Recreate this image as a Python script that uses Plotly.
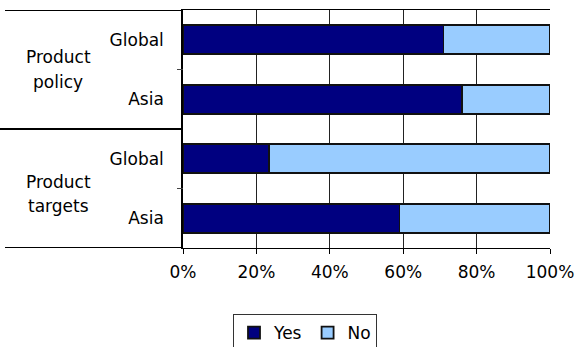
import plotly.graph_objects as go

# Survey results: share of companies answering Yes / No
rows = ["Global", "Asia", "Global", "Asia"]
groups = [["Product", "policy"], ["Product", "targets"]]
yes_pct = [71, 76, 23.5, 59]
no_pct = [100 - v for v in yes_pct]
x_ticks = [0, 20, 40, 60, 80, 100]
x_tick_text = ["0%", "20%", "40%", "60%", "80%", "100%"]

# rows drawn top to bottom
ypos = list(range(len(rows) - 1, -1, -1))

FONT = "DejaVu Sans, Verdana, sans-serif"

fig = go.Figure()
fig.add_trace(go.Bar(
    y=ypos, x=yes_pct, orientation="h", name="Yes", width=0.49,
    marker=dict(color="#000080", line=dict(color="#111111", width=1.8)),
))
fig.add_trace(go.Bar(
    y=ypos, x=no_pct, orientation="h", name="No", width=0.49,
    marker=dict(color="#99CCFF", line=dict(color="#111111", width=1.8)),
))

W, H = 578, 347
L, R, T, B = 183, 28, 10, 99
pw = W - L - R
ph = H - T - B


def px_to_paper_x(px):
    return (px - L) / pw


def px_to_paper_y(py):
    return (H - B - py) / ph


shapes = []
# group separators extending into the left margin
for yv, x0 in [(3.5, 5), (1.5, 0), (-0.5, 5)]:
    shapes.append(dict(type="line", xref="paper", yref="y",
                       x0=px_to_paper_x(x0), x1=0, y0=yv, y1=yv,
                       line=dict(color="black", width=2)))
# small ticks between rows within a group
for yv in [2.5, 0.5]:
    shapes.append(dict(type="line", xref="paper", yref="y",
                       x0=px_to_paper_x(177), x1=0, y0=yv, y1=yv,
                       line=dict(color="#444", width=1)))

# two-line group labels, each line placed on its own
annotations = []
line_rows = [(57, 82), (182, 206)]
for words, ys in zip(groups, line_rows):
    for word, py in zip(words, ys):
        annotations.append(dict(
            text=word, xref="paper", yref="paper",
            x=px_to_paper_x(58), y=px_to_paper_y(py),
            xanchor="center", yanchor="middle", showarrow=False,
            font=dict(family=FONT, size=17, color="black"),
        ))

fig.update_layout(
    width=W, height=H,
    margin=dict(l=L, r=R, t=T, b=B, autoexpand=False),
    barmode="stack",
    plot_bgcolor="white", paper_bgcolor="white",
    font=dict(family=FONT, size=16, color="black"),
    showlegend=True,
    legend=dict(
        orientation="h", traceorder="normal",
        x=px_to_paper_x(233), xanchor="left",
        y=px_to_paper_y(314), yanchor="top",
        bordercolor="#333", borderwidth=1,
        font=dict(family=FONT, size=17, color="black"),
        itemwidth=30, tracegroupgap=0,
    ),
    shapes=shapes,
    annotations=annotations,
)

fig.update_xaxes(
    range=[0, 100], tickvals=x_ticks, ticktext=x_tick_text,
    showgrid=True, gridcolor="#222", gridwidth=1,
    showline=True, linecolor="black", linewidth=1, mirror=True,
    ticks="outside", ticklen=5, tickcolor="black",
    zeroline=False, fixedrange=True, automargin=False,
    ticklabelstandoff=4,
    tickfont=dict(family=FONT, size=17),
)
fig.update_yaxes(
    range=[-0.5, 3.5], tickvals=ypos, ticktext=rows,
    showgrid=False, zeroline=False, automargin=False,
    showline=True, linecolor="black", linewidth=1.5,
    ticks="", ticklabelstandoff=14,
    tickfont=dict(family=FONT, size=17),
)

fig.write_html("out.html")
